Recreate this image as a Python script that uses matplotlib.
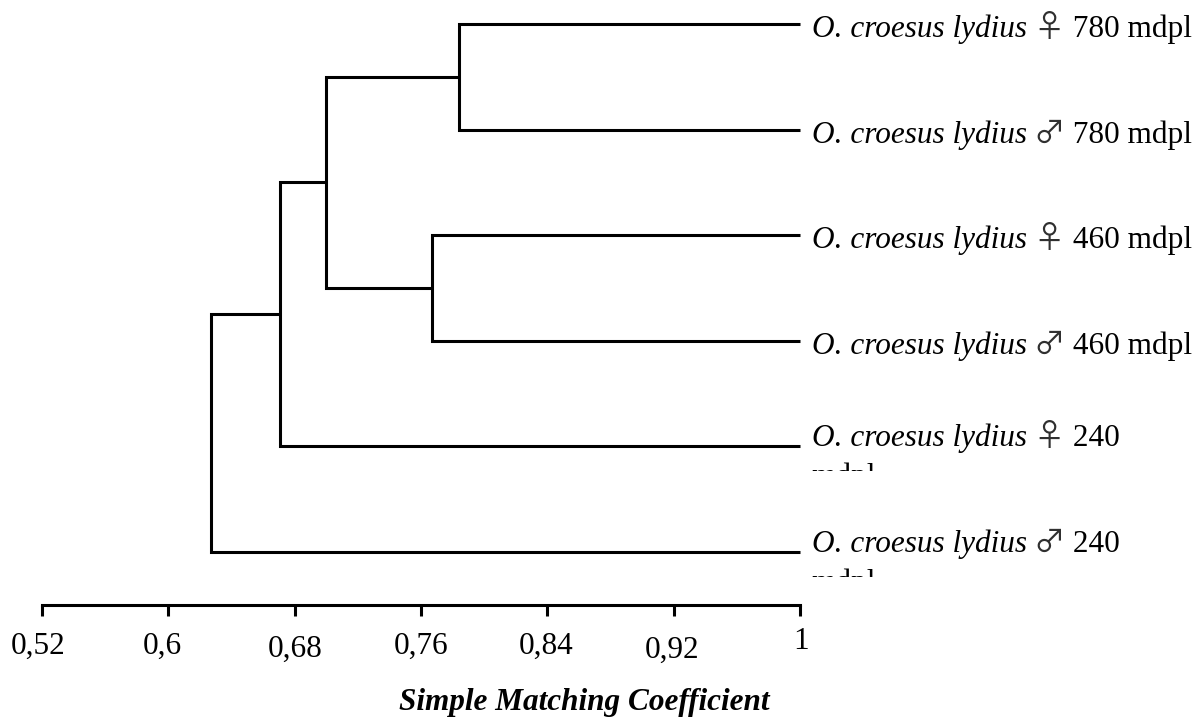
import matplotlib
matplotlib.use("Agg")
import matplotlib.pyplot as plt
from matplotlib.transforms import ScaledTranslation, Bbox

plt.rcParams['font.family'] = ['Liberation Serif', 'Noto Sans CJK JP', 'DejaVu Sans']

# leaves, top to bottom
species = 'O. croesus lydius'
sex = ['♀', '♂', '♀', '♂', '♀', '♂']
altitude = ['780', '780', '460', '460', '240', '240']
wrapped = [False, False, False, False, True, True]  # label breaks onto a 2nd line

# merges: (node a, node b, similarity); new nodes get ids 6, 7, 8, 9
merges = [(0, 1, 0.784), (2, 3, 0.767), (6, 7, 0.700), (8, 4, 0.671), (9, 5, 0.627)]

ticks = [0.52, 0.6, 0.68, 0.76, 0.84, 0.92, 1.0]
tick_labels = ['0,52', '0,6', '0,68', '0,76', '0,84', '0,92', '1']
xlabel = 'Simple Matching Coefficient'

W, H = 1201, 722
fig = plt.figure(figsize=(W / 100, H / 100), dpi=100)
ax = fig.add_axes([42 / W, 1 - 605 / H, (800 - 42) / W, 605 / H])

lw = 2.2
fs = 22.5
nodes = {i: (1.0, float(i)) for i in range(len(sex))}
for k, (a, b, h) in enumerate(merges):
    xa, ya = nodes[a]
    xb, yb = nodes[b]
    ax.plot([xa, h, h, xb], [ya, ya, yb, yb], color='black', lw=lw,
            solid_joinstyle='miter', solid_capstyle='butt', clip_on=False)
    nodes[len(sex) + k] = (h, (ya + yb) / 2)

ax.set_xlim(0.52, 1.0)
ax.set_ylim(5.502, -0.227)

for s in ['top', 'right', 'left']:
    ax.spines[s].set_visible(False)
ax.spines['bottom'].set_linewidth(lw)
ax.spines['bottom'].set_capstyle('projecting')
ax.set_yticks([])
ax.set_xticks(ticks)
ax.set_xticklabels(tick_labels)
ax.tick_params(axis='x', direction='out', length=8, width=lw, pad=11.5,
               labelsize=fs, colors='black')


def px(dx, dy):
    return ScaledTranslation(dx / 100, dy / 100, fig.dpi_scale_trans)


# the labels in the source sit a little unevenly
label_shift = [(-4, 0), (-6, 0), (0, -3), (0, 0), (-1, 0), (-2, -4), (1, 5)]
for lab, (dx, dy) in zip(ax.get_xticklabels(), label_shift):
    lab.set_transform(lab.get_transform() + px(dx, dy))

ax.set_xlabel(xlabel, fontsize=fs, fontweight='bold', fontstyle='italic', va='baseline')
ax.xaxis.set_label_coords(0.716, -0.1736)

# leaf labels: italic name, full-width sex sign, altitude
for i in range(len(sex)):
    base = 0 if wrapped[i] else -13
    t1 = fig.text(1.0, i, species, transform=ax.transData + px(12, base),
                  fontsize=fs, fontstyle='italic', va='baseline', ha='left')
    t_sex = ax.annotate(' ' + sex[i], xy=(1, i), xycoords=(t1, 'data'),
                        xytext=(0, base), textcoords='offset pixels',
                        fontsize=fs, family=['Noto Sans CJK JP'], color='#303030',
                        va='baseline', ha='left', annotation_clip=False)
    rest = ' ' + altitude[i] + ('' if wrapped[i] else ' mdpl')
    ax.annotate(rest, xy=(1, i), xycoords=(t_sex, 'data'),
                xytext=(0, base), textcoords='offset pixels',
                fontsize=fs, va='baseline', ha='left', annotation_clip=False)
    if wrapped[i]:
        t2 = fig.text(1.0, i, 'mdpl', transform=ax.transData + px(11, -39),
                      fontsize=fs, va='baseline', ha='left')
        xd, yd = ax.transData.transform((1.0, i))
        t2.set_clip_box(Bbox.from_extents(xd, yd - 25, W, yd + 60))
        t2.set_clip_on(True)

fig.savefig('out.png', dpi=100)
